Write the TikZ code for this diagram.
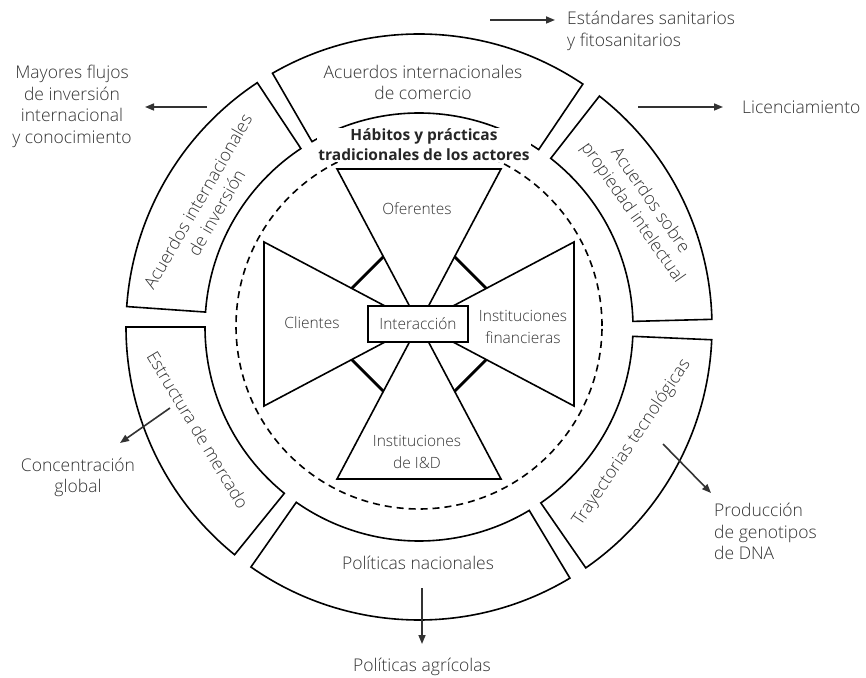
\documentclass[tikz,border=0pt]{standalone}
\usepackage{fontspec}
\IfFontExistsTF{Open Sans Light}
  {\setmainfont{Open Sans}[UprightFont=* Light,BoldFont=* Bold]}
  {\setmainfont{Open Sans}}
\usetikzlibrary{arrows.meta,calc}

% one annular sector of the outer ring, between two angles
\newcommand\ringseg[2]{%
  \draw[seg] (#1:293) arc[start angle=#1,end angle=#2,radius=293]
    -- (#2:214) arc[start angle=#2,end angle=#1,radius=214] -- cycle;}

\begin{document}
\begin{tikzpicture}[x=1pt,y=1pt,
  seg/.style={draw=black,line width=1.6pt,fill=white,line join=miter},
  tri/.style={draw=black,line width=1.6pt,line join=miter},
  bar/.style={draw=black,line width=2.8pt},
  dashring/.style={draw=black,line width=1.6pt,dash pattern=on 7pt off 5pt},
  outer/.style={font=\fontsize{17.5}{21.5}\selectfont,text=black!80,inner sep=0pt,align=center},
  innerlbl/.style={font=\fontsize{15.5}{21.5}\selectfont,text=black!80,inner sep=0pt,align=center},
  arr/.style={draw=black!80,line width=1.6pt,-{Triangle[length=9pt,width=7pt]}},
]
\useasboundingbox (0,0) rectangle (866,677);

% outer ring of six sectors
\begin{scope}[shift={(419,350)}]
  \ringseg{1.5}{52}
  \ringseg{56}{120}
  \ringseg{123.5}{176}
  \ringseg{180}{231}
  \ringseg{235}{301}
  \ringseg{304.7}{357.5}
\end{scope}

% dashed boundary of the actors
\draw[dashring] (419,351) circle[radius=183];

% four actor triangles meeting at the centre
\coordinate (c) at (419,353);
\coordinate (o1) at (337,508);  \coordinate (o2) at (501,508);
\coordinate (k1) at (264,435);  \coordinate (k2) at (264,271);
\coordinate (f1) at (574,435);  \coordinate (f2) at (574,271);
\coordinate (d1) at (337,198);  \coordinate (d2) at (501,198);
\draw[tri] (c) -- (o1) -- (o2) -- cycle;
\draw[tri] (c) -- (k1) -- (k2) -- cycle;
\draw[tri] (c) -- (f1) -- (f2) -- cycle;
\draw[tri] (c) -- (d1) -- (d2) -- cycle;

% short links between neighbouring triangles
\draw[bar] ($(c)!0.434!(o1)$) -- ($(c)!0.434!(k1)$);
\draw[bar] ($(c)!0.434!(o2)$) -- ($(c)!0.434!(f1)$);
\draw[bar] ($(c)!0.434!(d1)$) -- ($(c)!0.434!(k2)$);
\draw[bar] ($(c)!0.434!(d2)$) -- ($(c)!0.434!(f2)$);

\node[draw=black,line width=2pt,fill=white,minimum width=100pt,minimum height=36pt,
  inner sep=0pt,font=\fontsize{15.5}{18}\selectfont,text=black!80] (inter) at (418,353) {Interacción};

\node[innerlbl] (ofer) at (417,468) {Oferentes};
\node[innerlbl] (cli) at (312,354) {Clientes};
\node[innerlbl] (fin) at (523,350) {Instituciones\\financieras};
\node[innerlbl] (iyd) at (417,225) {Instituciones\\de I\&D};

\node[fill=white,inner sep=1pt,align=center,font=\bfseries\fontsize{15.5}{20}\selectfont,text=black!85]
  (hab) at (424,532) {Hábitos y prácticas\\tradicionales de los actores};

% sector labels
\node[outer] (com) at (423,594.5) {Acuerdos internacionales\\de comercio};
\node[outer,rotate=60] (inv) at (207,470) {Acuerdos internacionales\\de inversión};
\node[outer,rotate=-55] (pi) at (641,470) {Acuerdos sobre\\propiedad intelectual};
\node[outer,rotate=-59] (est) at (198,247) {Estructura de mercado};
\node[outer,rotate=56] (tra) at (632,234) {Trayectorias tecnológicas};
\node[outer] (pol) at (418,114) {Políticas nacionales};

% effects outside the ring
\node[outer,anchor=west,align=left] (san) at (567,646) {Estándares sanitarios\\y fitosanitarios};
\node[outer,anchor=west] (lic) at (742,570) {Licenciamiento};
\node[outer] (may) at (72,570.5) {Mayores flujos\\de inversión\\internacional\\y conocimiento};
\node[outer] (con) at (78,199.5) {Concentración\\global};
\node[outer,anchor=west,align=left] (pro) at (714,145.5) {Producción\\de genotipos\\de DNA};
\node[outer] (agr) at (422,10) {Políticas agrícolas};

\coordinate (sanT) at (490,657);  \coordinate (sanH) at (555,657);
\coordinate (licT) at (638,570);  \coordinate (licH) at (723,570);
\coordinate (mayT) at (207,570);  \coordinate (mayH) at (145,570);
\coordinate (conT) at (170,269);  \coordinate (conH) at (120,234);
\coordinate (proT) at (663,233);  \coordinate (proH) at (711,184);
\coordinate (agrT) at (422,89);   \coordinate (agrH) at (422,33);

\draw[arr] (sanT) -- (sanH);
\draw[arr] (licT) -- (licH);
\draw[arr] (mayT) -- (mayH);
\draw[arr] (conT) -- (conH);
\draw[arr] (proT) -- (proH);
\draw[arr] (agrT) -- (agrH);
\end{tikzpicture}
\end{document}
